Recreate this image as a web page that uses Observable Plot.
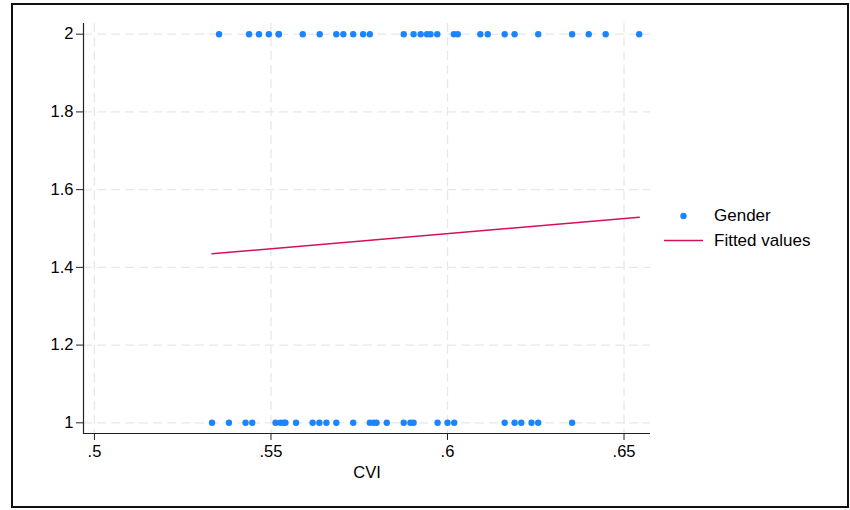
<!DOCTYPE html>
<html>
<head>
<meta charset="utf-8">
<script src="https://cdn.jsdelivr.net/npm/d3@7"></script>
<script src="https://cdn.jsdelivr.net/npm/@observablehq/plot@0.6"></script>
<style>
  html, body { margin: 0; padding: 0; background: #fff; }
  #wrap { position: relative; width: 850px; height: 510px; background: #fff;
          font-family: "Liberation Sans", Arial, Helvetica, sans-serif; }
  #border { position: absolute; left: 11px; top: 3px; width: 834px; height: 501px;
            border: 2px solid #111; box-sizing: content-box; }
  #chart { position: absolute; left: 0; top: 0; }
  .leg { position: absolute; font-size: 17px; color: #000; line-height: 1; }
</style>
</head>
<body>
<div id="wrap">
  <div id="border"></div>
  <div id="chart"></div>
  <div id="legend"></div>
</div>
<script>
// CVI scores for respondents coded Gender = 1
const cviGender1 = [
  0.5333, 0.5381, 0.5428, 0.5447, 0.5513, 0.5527, 0.5536, 0.5541, 0.5571, 0.5618,
  0.5637, 0.5657, 0.5685, 0.5733, 0.5780, 0.5791, 0.5799, 0.5828, 0.5876, 0.5895,
  0.5904, 0.5972, 0.6000, 0.6019, 0.6162, 0.6190, 0.6209, 0.6238, 0.6257, 0.6353
];
// CVI scores for respondents coded Gender = 2
const cviGender2 = [
  0.5353, 0.5438, 0.5466, 0.5494, 0.5522, 0.5522, 0.5590, 0.5638, 0.5685, 0.5705,
  0.5733, 0.5761, 0.5780, 0.5876, 0.5904, 0.5924, 0.5942, 0.5952, 0.5971, 0.6018,
  0.6029, 0.6093, 0.6114, 0.6162, 0.6190, 0.6257, 0.6353, 0.6400, 0.6448, 0.6543
];
// Linear fit of Gender on CVI, at the ends of the observed range
const fitCVI = [0.5333, 0.6543];
const fitGender = [1.435, 1.529];

const xTicks = [0.5, 0.55, 0.6, 0.65];
const yTicks = [1, 1.2, 1.4, 1.6, 1.8, 2];
const xDomain = [0.4969, 0.6575];
const yDomain = [0.9725, 2.0275];

const points = [
  ...cviGender1.map(c => ({cvi: c, gender: 1})),
  ...cviGender2.map(c => ({cvi: c, gender: 2}))
];
const fit = fitCVI.map((c, i) => ({cvi: c, gender: fitGender[i]}));

const BLUE = "#1a85ff";
const RED = "#d41159";
const GRID = "#e8e8e8";
const trimZero = d => String(d).replace(/^0\./, ".");

const chart = Plot.plot({
  width: 850,
  height: 510,
  marginLeft: 83,
  marginRight: 200,
  marginTop: 23,
  marginBottom: 77,
  style: {fontFamily: '"Liberation Sans", Arial, Helvetica, sans-serif', fontSize: "16px", color: "#000", background: "transparent"},
  x: {domain: xDomain},
  y: {domain: yDomain},
  marks: [
    Plot.gridY(yTicks, {stroke: GRID, strokeOpacity: 1, strokeWidth: 1.3, strokeDasharray: "9,5"}),
    Plot.gridX(xTicks, {stroke: GRID, strokeOpacity: 1, strokeWidth: 1.3, strokeDasharray: "9,5"}),
    Plot.ruleX([xDomain[0]], {stroke: "#222", strokeWidth: 1.2}),
    Plot.ruleY([yDomain[0]], {stroke: "#222", strokeWidth: 1.2}),
    Plot.axisY(yTicks, {tickSize: 7, tickPadding: 3, fontSize: 16.5, stroke: "#222", label: null, tickFormat: d => String(d)}),
    Plot.axisX(xTicks, {tickSize: 7, tickPadding: 5, fontSize: 16.5, stroke: "#222", label: null, tickFormat: trimZero}),
    Plot.text(["CVI"], {frameAnchor: "bottom", dy: 44, fontSize: 16.5, fill: "#000"}),
    Plot.line(fit, {x: "cvi", y: "gender", stroke: RED, strokeWidth: 1.5}),
    Plot.dot(points, {x: "cvi", y: "gender", r: 3.2, fill: BLUE, stroke: "none"})
  ]
});
document.getElementById("chart").append(chart);

// Legend to the right of the plot region
const legend = document.getElementById("legend");
legend.innerHTML = `
  <svg style="position:absolute;left:0;top:0" width="850" height="510">
    <circle cx="683.5" cy="216" r="3.2" fill="${BLUE}"/>
    <line x1="664" x2="703" y1="240.5" y2="240.5" stroke="${RED}" stroke-width="1.5"/>
  </svg>
  <div class="leg" style="left:714px;top:207px">Gender</div>
  <div class="leg" style="left:714px;top:232px">Fitted values</div>
`;
</script>
</body>
</html>
